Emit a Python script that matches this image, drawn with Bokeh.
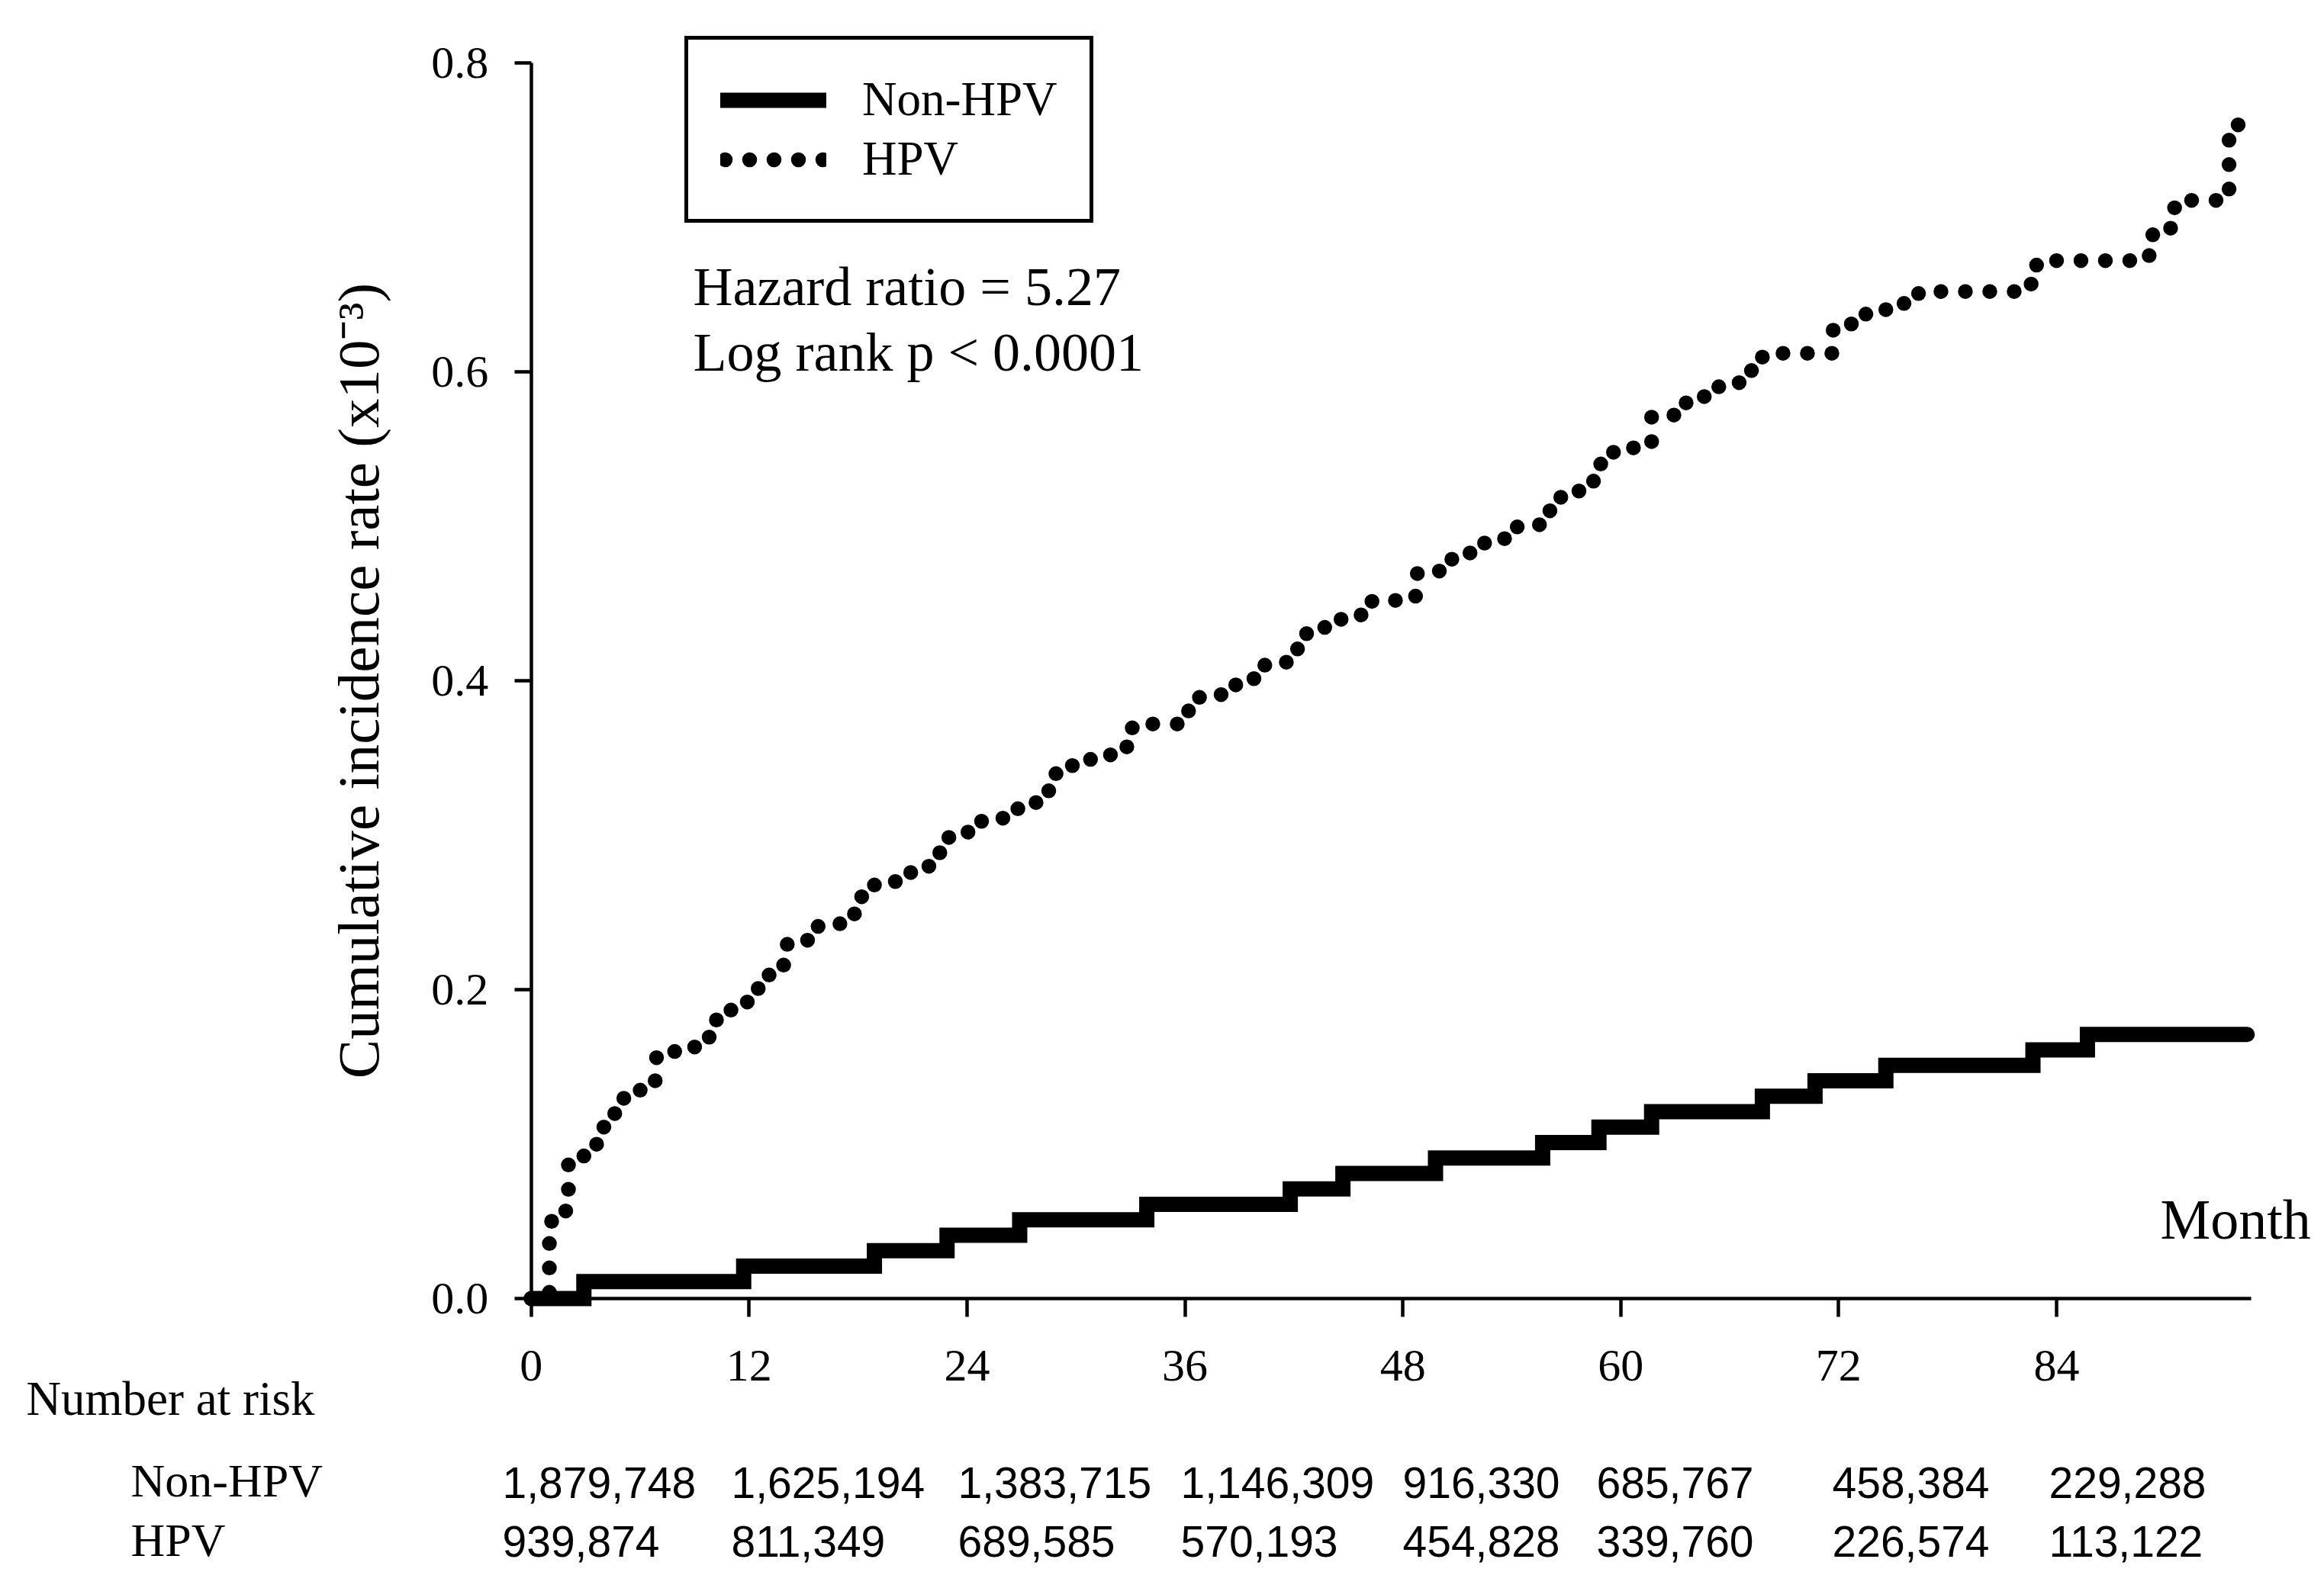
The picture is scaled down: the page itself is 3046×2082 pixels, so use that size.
from bokeh.plotting import figure
from bokeh.models import Range1d, FixedTicker, NumeralTickFormatter, Label, Legend, LegendItem
from bokeh.embed import file_html
from bokeh.resources import INLINE

# ---------------- data ----------------
x_ticks = [0, 12, 24, 36, 48, 60, 72, 84]
y_ticks = [0.0, 0.2, 0.4, 0.6, 0.8]

nonhpv_time = [0.0, 2.9, 11.7, 18.9, 22.9, 26.9, 33.9, 41.8, 44.7, 49.8, 55.7,
               58.8, 61.7, 67.8, 70.7, 74.6, 82.7, 85.7]
nonhpv_rate = [0.000, 0.011, 0.021, 0.031, 0.041, 0.051, 0.061, 0.071, 0.081,
               0.091, 0.101, 0.111, 0.121, 0.131, 0.141, 0.151, 0.161, 0.171]
nonhpv_end = 94.5

hpv_time = [0.0, 1.0, 1.9, 2.05, 2.9, 3.6, 4.0, 4.6, 5.1, 6.0, 6.5, 6.9, 7.9, 9.0,
            9.8, 10.2, 11.0, 11.9, 12.5, 13.1, 13.9, 14.1, 15.8, 17.0, 17.8, 18.2,
            18.9, 20.1, 20.9, 21.9, 22.5, 23.0, 24.8, 26.8, 27.8, 28.5, 28.9, 29.8,
            30.8, 32.8, 33.1, 36.2, 36.8, 38.8, 39.8, 40.4, 42.2, 42.7, 43.7, 44.6,
            45.7, 46.3, 48.7, 48.8, 50.7, 51.7, 52.5, 54.3, 56.1, 56.7, 57.7, 58.5,
            58.9, 59.6, 60.7, 61.7, 63.6, 64.6, 65.4, 67.2, 67.8, 71.7, 72.7, 73.5,
            74.6, 75.6, 76.4, 82.6, 82.9, 89.1, 89.3, 90.5, 93.5, 94.0]
hpv_rate = [0.000, 0.050, 0.057, 0.089, 0.093, 0.100, 0.111, 0.121, 0.131, 0.136,
            0.141, 0.156, 0.161, 0.165, 0.171, 0.181, 0.189, 0.193, 0.201, 0.212,
            0.217, 0.232, 0.242, 0.246, 0.251, 0.262, 0.270, 0.272, 0.278, 0.282,
            0.292, 0.302, 0.311, 0.318, 0.322, 0.331, 0.342, 0.347, 0.352, 0.358,
            0.372, 0.382, 0.391, 0.398, 0.403, 0.412, 0.422, 0.431, 0.435, 0.441,
            0.444, 0.452, 0.456, 0.471, 0.480, 0.484, 0.492, 0.501, 0.511, 0.521,
            0.525, 0.532, 0.542, 0.550, 0.552, 0.572, 0.581, 0.585, 0.593, 0.602,
            0.612, 0.630, 0.632, 0.639, 0.642, 0.646, 0.652, 0.659, 0.672, 0.685,
            0.693, 0.711, 0.752, 0.762]
hpv_end = 94.1

risk_groups = ["Non-HPV", "HPV"]
risk_nonhpv = ["1,879,748", "1,625,194", "1,383,715", "1,146,309", "916,330",
               "685,767", "458,384", "229,288"]
risk_hpv = ["939,874", "811,349", "689,585", "570,193", "454,828", "339,760",
            "226,574", "113,122"]

hazard_text = "Hazard ratio = 5.27"
logrank_text = "Log rank p < 0.0001"

# ---------------- layout (page pixels) ----------------
FIG_W, FIG_H = 3040, 2078
ORIG_X0 = 695.75             # page x of month 0
ORIG_Y0 = 1702.0             # page y of rate 0
PX_MONTH = 23.80             # pixels per month
PX_UNIT = 2025.0             # pixels per 1.0 of rate
BASE_SHIFT = 0.34            # alphabetic-baseline correction (fraction of font size)


def px_x(X):
    return (X - ORIG_X0) / PX_MONTH


def px_y(Y):
    return (ORIG_Y0 - Y) / PX_UNIT


SERIF = "Liberation Serif"
SANS = "Liberation Sans"

p = figure(width=FIG_W, height=FIG_H, output_backend="svg", toolbar_location=None,
           x_range=Range1d(px_x(0), px_x(FIG_W)),
           y_range=Range1d(px_y(FIG_H), px_y(0)),
           min_border_left=0, min_border_right=0,
           min_border_top=0, min_border_bottom=0)
p.outline_line_color = None
p.grid.visible = False
p.background_fill_color = "white"
p.border_fill_color = "white"

# curves
r_non = p.step(nonhpv_time + [nonhpv_end], nonhpv_rate + [nonhpv_rate[-1]], mode="after",
               line_color="black", line_width=20, line_cap="round", line_join="miter")
r_hpv = p.step(hpv_time + [hpv_end], hpv_rate + [hpv_rate[-1]], mode="after",
               line_color="black", line_width=19.5, line_cap="round", line_join="round",
               line_dash="0 32")

# legend sample for the dotted style (kept off-screen, only its legend glyph shows)
leg_hpv = p.line([-100, -99], [-5, -5], line_color="black", line_width=19.5,
                 line_cap="round", line_dash="0 32", line_dash_offset=26)

legend = Legend(items=[LegendItem(label="Non-HPV", renderers=[r_non]),
                       LegendItem(label="HPV", renderers=[leg_hpv])],
                location=(897, FIG_H - 292), orientation="vertical",
                border_line_color="black", border_line_width=5, border_line_alpha=1.0,
                background_fill_color="white", background_fill_alpha=1.0,
                padding=42, spacing=5, margin=0, label_standoff=47,
                glyph_width=139, glyph_height=70, label_height=70,
                label_text_font=SERIF, label_text_font_size="63px",
                label_text_color="black")
p.add_layout(legend)

# axes
for ax in (p.xaxis, p.yaxis):
    ax.axis_line_color = "black"
    ax.axis_line_width = 4.5
    ax.major_tick_line_color = "black"
    ax.major_tick_line_width = 4.5
    ax.minor_tick_line_color = None
    ax.major_tick_in = 0
    ax.major_label_text_font = SERIF
    ax.major_label_text_font_size = "60px"
    ax.major_label_text_color = "black"
    ax.fixed_location = 0

p.xaxis.ticker = FixedTicker(ticks=x_ticks)
p.xaxis.bounds = (0, 94.7)
p.xaxis.major_tick_out = 24
p.xaxis.major_label_standoff = 44

p.yaxis.ticker = FixedTicker(ticks=y_ticks)
p.yaxis.formatter = NumeralTickFormatter(format="0.0")
p.yaxis.bounds = (0, 0.8)
p.yaxis.major_tick_out = 22
p.yaxis.major_label_standoff = 34
p.yaxis.axis_label = "Cumulative incidence rate (x10\u207b\u00b3)"
p.yaxis.axis_label_text_font = SERIF
p.yaxis.axis_label_text_font_size = "77px"
p.yaxis.axis_label_text_font_style = "normal"
p.yaxis.axis_label_text_color = "black"
p.yaxis.axis_label_standoff = 50


def add_text(text, X, base_Y, font=SERIF, size=72, align="left"):
    """X: left edge, base_Y: baseline, both in page pixels."""
    p.add_layout(Label(x=px_x(X), y=px_y(base_Y - BASE_SHIFT * size), text=text,
                       text_font=font, text_font_size=f"{size}px", text_color="black",
                       text_align=align, text_baseline="alphabetic"))


add_text(hazard_text, 908, 400)
add_text(logrank_text, 908, 486)
add_text("Month", 2831, 1624, size=74)
add_text("Number at risk", 34, 1855, size=63)
add_text(risk_groups[0], 171, 1962, size=62)
add_text(risk_groups[1], 171, 2040, size=62)

col_left = [658, 958, 1255, 1547, 1838, 2092, 2401, 2685]
for X, a, b in zip(col_left, risk_nonhpv, risk_hpv):
    add_text(a, X, 1963, font=SANS, size=57)
    add_text(b, X, 2040, font=SANS, size=57)

open("out.html", "w").write(file_html(p, INLINE))
